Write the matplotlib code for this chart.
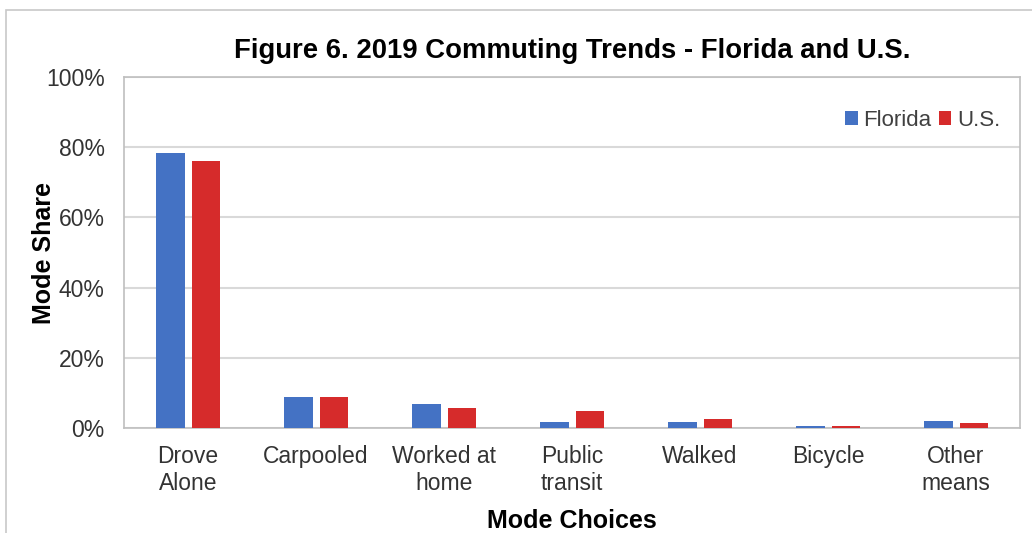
import numpy as np
import matplotlib.pyplot as plt
from matplotlib.patches import Rectangle
from matplotlib.ticker import PercentFormatter

categories = ['Drove\nAlone', 'Carpooled', 'Worked at\nhome', 'Public\ntransit',
              'Walked', 'Bicycle', 'Other\nmeans']
florida = [78.3, 8.8, 6.8, 1.7, 1.7, 0.6, 2.0]
us = [76.1, 8.8, 5.7, 4.9, 2.6, 0.5, 1.5]

plt.rcParams['font.family'] = ['Liberation Sans', 'DejaVu Sans']

fig = plt.figure(figsize=(10.32, 5.33), dpi=100)
# outer chart frame
fig.patches.append(Rectangle((0.006, -0.1), 1.1, 1.081, transform=fig.transFigure,
                             fill=False, edgecolor='#c8c8c8', linewidth=1.2))
ax = fig.add_axes([0.1202, 0.197, 0.8682, 0.6585])

x = np.arange(len(categories))
w = 0.225
ax.bar(x - 0.14, florida, w, color='#4472C4', label='Florida', zorder=3)
ax.bar(x + 0.14, us, w, color='#D62B2B', label='U.S.', zorder=3)

ax.set_xlim(-0.5, len(categories) - 0.5)
ax.set_ylim(0, 100)
ax.set_yticks(np.arange(0, 101, 20))
ax.yaxis.set_major_formatter(PercentFormatter(decimals=0))
ax.grid(axis='y', color='#d9d9d9', linewidth=1.5, zorder=0)
for s in ax.spines.values():
    s.set_color('#bfbfbf')
    s.set_linewidth(1.2)
ax.tick_params(length=0, labelsize=16.5, colors='#333333')
ax.tick_params(axis='y', pad=14)
ax.tick_params(axis='x', pad=12)
ax.set_xticks(x)
ax.set_xticklabels(categories, linespacing=1.25)

ax.set_title('Figure 6. 2019 Commuting Trends - Florida and U.S.',
             fontsize=19.8, fontweight='bold', pad=14)
ax.set_ylabel('Mode Share', fontsize=18, fontweight='bold')
ax.yaxis.set_label_coords(-0.076, 0.5)
ax.set_xlabel('Mode Choices', fontsize=18, fontweight='bold', labelpad=10)

leg = ax.legend(loc='upper right', bbox_to_anchor=(1.0, 0.963), ncol=2, frameon=False,
                fontsize=16, handlelength=0.55, handleheight=0.55, handletextpad=0.25,
                columnspacing=0.35)
for t in leg.get_texts():
    t.set_color('#404040')

fig.savefig('out.png', dpi=100)
